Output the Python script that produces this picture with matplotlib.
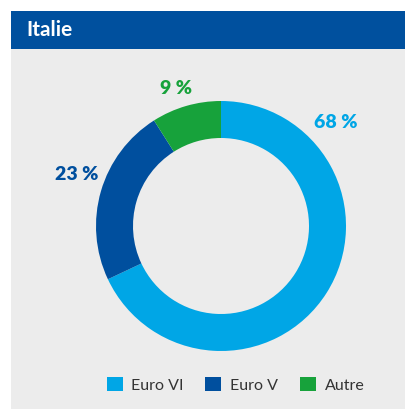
import matplotlib
matplotlib.use("Agg")
import matplotlib.pyplot as plt
from matplotlib.patches import Rectangle

title = "Italie"
categories = ["Euro VI", "Euro V", "Autre"]
values = [68, 23, 9]
value_labels = ["68 %", "23 %", "9 %"]
colors = ["#00a6e6", "#004f9e", "#17a23b"]

W, H = 405, 409
plt.rcParams['font.family'] = ['Lato', 'DejaVu Sans']

fig = plt.figure(figsize=(W / 100, H / 100), dpi=100)
ax = fig.add_axes([0, 0, 1, 1])
ax.set_xlim(0, W)
ax.set_ylim(0, H)
ax.axis("off")

# panel background and header
ax.add_patch(Rectangle((11, 0), W - 11, H - 49, facecolor="#ececec", edgecolor="none", zorder=0))
ax.add_patch(Rectangle((11, H - 49), W - 11, 38, facecolor="#00509e", edgecolor="none", zorder=0))
ax.text(26, H - 30, title, color="white", fontsize=15, fontweight="bold", ha="left", va="center")

cx, cy = 221, H - 226
wedges, _ = ax.pie(values, colors=colors, startangle=90, counterclock=False,
                   radius=125, center=(cx, cy), frame=True,
                   wedgeprops=dict(width=37, linewidth=0))
ax.set_xlim(0, W)
ax.set_ylim(0, H)
ax.set_aspect("auto")
ax.axis("off")

label_pos = [(336, 122), (77, 175), (176, 89)]
for (x, y), txt, c in zip(label_pos, value_labels, colors):
    ax.text(x, H - y, txt, color=c, fontsize=14, fontweight="heavy", ha="center", va="center")

fig.legend(wedges, categories, loc="center", bbox_to_anchor=(235.5 / W, 1 - 385 / H),
           ncol=3, frameon=False, fontsize=11.5, handlelength=1.0, handleheight=0.95,
           handletextpad=0.55, columnspacing=1.35, labelcolor="#333333")

fig.savefig("out.png", dpi=100, facecolor="white")
